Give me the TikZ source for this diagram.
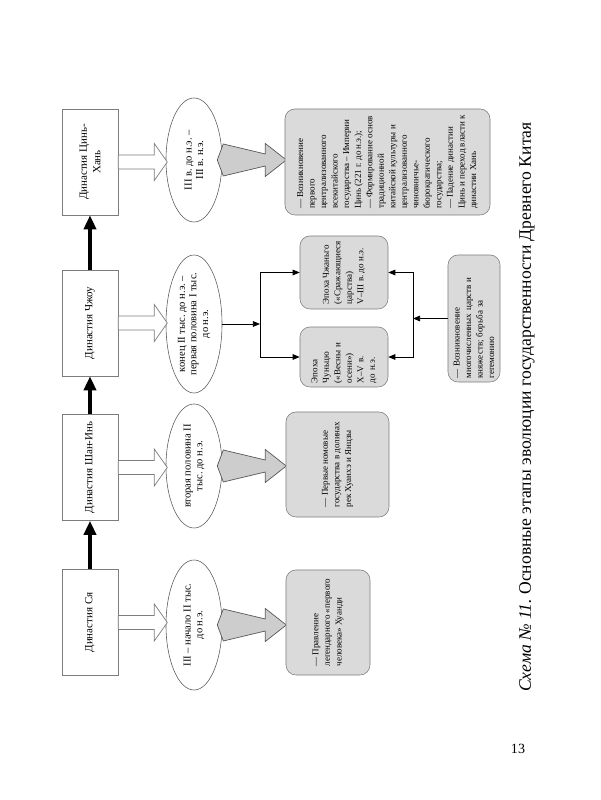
\documentclass[tikz,border=0pt]{standalone}
\usepackage{fontspec}
\setmainfont{Liberation Serif}
\usepackage{tikz}
\usetikzlibrary{arrows.meta,shapes.geometric}
\definecolor{schemaGray}{RGB}{125,125,125}
\definecolor{infoGray} {RGB}{218,218,218}
\definecolor{arrowGray}{RGB}{205,205,205}
\frenchspacing

\begin{document}
\begin{tikzpicture}[x=0.025cm,y=0.025cm,
    dynbox/.style={draw=schemaGray,fill=white,minimum width=2.65cm,
      minimum height=1.4cm,inner sep=2pt,align=center,
      font=\fontsize{7.8}{9.6}\selectfont},
    epoch/.style={ellipse,draw=schemaGray!70!black,fill=white,
      minimum height=1.4cm,inner xsep=-10pt,inner ysep=0pt,align=center,
      font=\fontsize{7.5}{8.3}\selectfont},
    infobox/.style={draw=schemaGray,fill=infoGray,rounded corners=0.25cm,
      inner sep=2pt,align=left,font=\fontsize{6.4}{8.2}\selectfont},
    hollowarrow/.style={draw=schemaGray,fill=white,line width=0.5pt},
    grayarrow/.style={draw=schemaGray!70!black,fill=arrowGray,line width=0.5pt},
    chain/.style={-{Triangle[length=0.35cm,width=0.3cm]},line width=2.5pt},
    link/.style={-{Triangle[length=5pt,width=4pt]},line width=0.5pt}
  ]
  \begin{scope}[rotate=90,transform shape]
    \useasboundingbox (0,0) rectangle (800,600);

    % Династии
    \node[dynbox] (xia)   at (177.5,510) {Династия Ся};
    \node[dynbox] (shang) at (332.5,510) {Династия Шан-Инь};
    \node[dynbox] (zhou)  at (477,510)   {Династия Чжоу};
    \node[dynbox] (qin)   at (638,510)   {Династия Цинь-\\Хань};

    \draw[chain] (xia.east)   -- (shang.west);
    \draw[chain] (shang.east) -- (zhou.west);
    \draw[chain] (zhou.east)  -- (qin.west);

    % Периоды
    \node[epoch,minimum width=3.25cm] (exia)   at (175,406)
      {III – начало II тыс.\\до н.э.};
    \node[epoch,minimum width=3.1cm]  (eshang) at (334,406)
      {вторая половина II\\тыс. до н.э.};
    \node[epoch,minimum width=3.45cm] (ezhou)  at (476,406)
      {конец II тыс. до н.э. –\\первая половина I тыс.\\до н.э.};
    \node[epoch,minimum width=3.1cm]  (eqin)   at (640,406)
      {III в. до н.э. –\\III в. н.э.};

    % Полые стрелки
    \foreach \d in {xia,shang,zhou,qin}{
      \draw[hollowarrow] (\d.south) ++(-7,0) -- ++(0,-36) -- ++(-11.5,0)
        -- ++(18.5,-13) -- ++(18.5,13) -- ++(-11.5,0) -- ++(0,36) -- cycle;
    }

    % Серые стрелки
    \foreach \e in {exia,eshang,eqin}{
      \draw[grayarrow] (\e.south) ++(-16,-1) -- ++(10,-42) -- ++(-10.5,0)
        -- ++(16.5,-21) -- ++(16.5,21) -- ++(-10.5,0) -- ++(10,42)
        -- ++(-16,6) -- cycle;
    }

    % Содержание
    \node[infobox,minimum width=2.65cm,minimum height=5.125cm]
      (iqin) at (638,212.5)
      {— Возникновение\\первого\\централизованного\\всекитайского\\
       государства – Империи\\Цинь (221 г. до н.э.);\\— Формирование основ\\
       традиционной\\китайской культуры и\\централизованного\\чиновничье-\\
       бюрократического\\государства;\\— Падение династии\\
       Цинь и переход власти к\\династии Хань};
    \node[infobox,minimum width=2.625cm,minimum height=2.575cm]
      (ishang) at (335.5,262.5)
      {— Первые номовые\\государства в долинах\\рек Хуанхэ и Янцзы};
    \node[infobox,minimum width=2.625cm,minimum height=2.1cm]
      (ixia) at (177.5,272)
      {— Правление\\легендарного «первого\\человека» Хуанди};

    % Чжоу
    \node[infobox,minimum width=1.825cm,minimum height=2.2cm]
      (zhg) at (527.5,256)
      {Эпоха Чжаньго\\(«Сражающиеся\\царства)\\V–III в. до н.э.};
    \node[infobox,minimum width=1.5cm,minimum height=2.2cm,text width=1.3cm]
      (chq) at (443,256)
      {Эпоха\\Чуньцю\\(«Весны и\\осени»)\\X–V в.\\до н.э.};
    \node[infobox,minimum width=3.175cm,minimum height=1.3cm,text width=3.0cm]
      (vozn) at (481.5,126)
      {— Возникновение\\многочисленных царств и\\княжеств; борьба за\\гегемонию};

    \coordinate (jl) at (476,340);
    \coordinate (jr) at (481.5,187);
    \draw[link] (ezhou.south) -- (jl);
    \draw[link] (jl) -| (zhg.north);
    \draw[link] (jl) -| (chq.north);
    \draw[link] (vozn.north) -- (jr);
    \draw[link] (jr) -| (zhg.south);
    \draw[link] (jr) -| (chq.south);

    % Подпись
    \node[font=\fontsize{12.5}{14}\selectfont] (cap) at (393,73)
      {\textit{Схема № 11.} Основные этапы эволюции государственности Древнего Китая};
    \node[font=\fontsize{10}{12}\selectfont,rotate=-90] (pnum) at (51,82) {13};
  \end{scope}
\end{tikzpicture}
\end{document}
